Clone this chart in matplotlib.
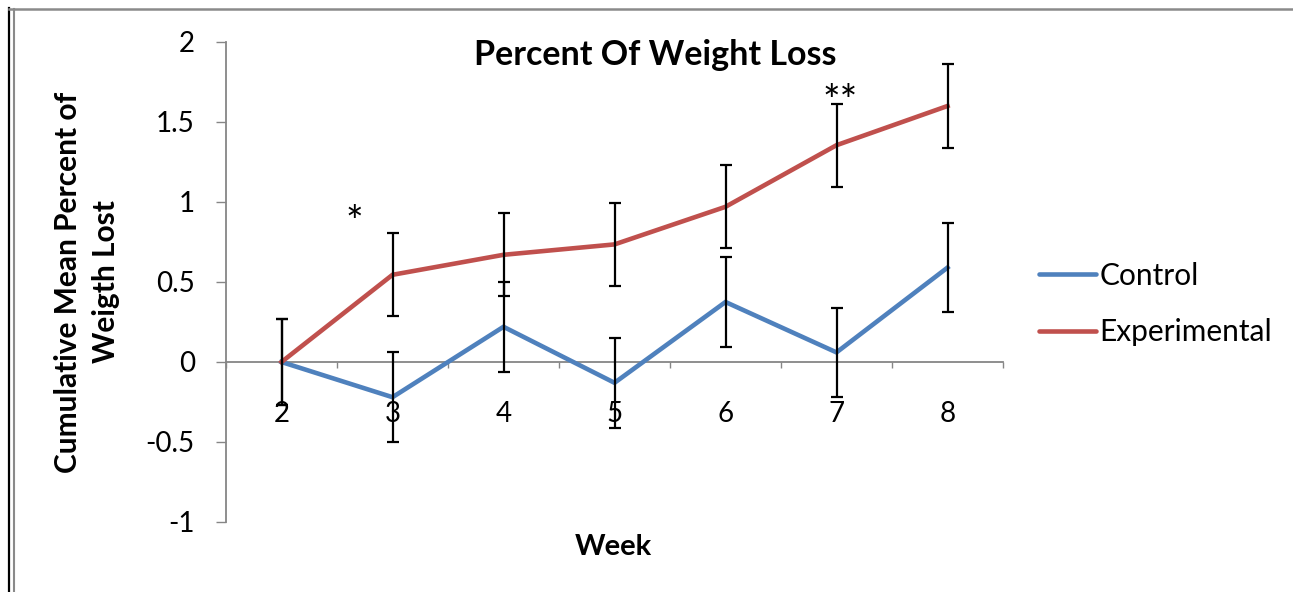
import matplotlib
matplotlib.use("Agg")
import matplotlib.pyplot as plt
from matplotlib.lines import Line2D
import numpy as np

# Data
weeks = ["2", "3", "4", "5", "6", "7", "8"]
control = [0.0, -0.22, 0.22, -0.13, 0.375, 0.06, 0.59]
control_err = [0.27, 0.28, 0.28, 0.28, 0.28, 0.28, 0.28]
experimental = [0.0, 0.545, 0.67, 0.735, 0.97, 1.355, 1.60]
experimental_err = [0.27, 0.26, 0.26, 0.26, 0.26, 0.26, 0.26]
y_ticks = [-1, -0.5, 0, 0.5, 1, 1.5, 2]
y_tick_labels = ["-1", "-0.5", "0", "0.5", "1", "1.5", "2"]

plt.rcParams['font.family'] = ['Lato', 'DejaVu Sans']

W, H = 1293, 592
fig = plt.figure(figsize=(W / 100, H / 100), dpi=100)
fig.patch.set_facecolor("white")

x0, x1, ytop, ybot = 226, 1003, 42, 522
ax = fig.add_axes([x0 / W, 1 - ybot / H, (x1 - x0) / W, (ybot - ytop) / H])

BLUE = "#4F81BD"
RED = "#C0504D"
GRAY = "#868686"

x = np.arange(len(weeks))
ax.plot(x, control, color=BLUE, lw=3.3, solid_joinstyle="miter", zorder=3)
ax.plot(x, experimental, color=RED, lw=3.3, solid_joinstyle="miter", zorder=3)
for vals, errs in ((control, control_err), (experimental, experimental_err)):
    ax.errorbar(x, vals, yerr=errs, fmt="none", ecolor="black", elinewidth=1.6,
                capsize=4, capthick=1.6, zorder=4)

ax.set_xlim(-0.5, len(weeks) - 0.5)
ax.set_ylim(-1, 2)

# Spines: only a grey value axis and a category axis crossing at zero
for s in ("top", "right"):
    ax.spines[s].set_visible(False)
ax.spines["left"].set_color(GRAY)
ax.spines["left"].set_linewidth(1.3)
ax.spines["bottom"].set_position(("data", 0))
ax.spines["bottom"].set_color(GRAY)
ax.spines["bottom"].set_linewidth(1.3)

ax.set_yticks(y_ticks)
ax.set_yticklabels(y_tick_labels)
ax.tick_params(axis="y", direction="out", length=7.5, width=1.0, color=GRAY,
               pad=15, labelsize=20)

ax.set_xticks(x)
ax.set_xticklabels(weeks)
ax.set_xticks(np.arange(-0.5, len(weeks), 1.0), minor=True)
ax.tick_params(axis="x", which="major", length=0, pad=28, labelsize=20)
ax.tick_params(axis="x", which="minor", direction="out", length=4.5, width=1.0,
               color=GRAY)

# Significance markers
ax.text(0.66, 0.86, "*", fontsize=30, ha="center", va="center")
ax.text(5.03, 1.62, "**", fontsize=30, ha="center", va="center")

# Titles and axis labels
fig.text(655 / W, 1 - 55 / H, "Percent Of Weight Loss", fontsize=24.5,
         fontweight="bold", ha="center", va="center")
fig.text(613 / W, 1 - 547 / H, "Week", fontsize=21, fontweight="bold",
         ha="center", va="center")
fig.text(87 / W, 1 - 282 / H, "Cumulative Mean Percent of\nWeigth Lost",
         fontsize=21.5, fontweight="bold", ha="center", va="center",
         rotation=90, multialignment="center", linespacing=1.4)

# Legend
handles = [Line2D([], [], color=BLUE, lw=3.3, solid_capstyle="round"),
           Line2D([], [], color=RED, lw=3.3, solid_capstyle="round")]
leg = fig.legend(handles, ["Control", "Experimental"], loc="center left",
                 bbox_to_anchor=(1039 / W, 1 - 304 / H), frameon=False,
                 fontsize=21.5, handlelength=1.9, handletextpad=0.12,
                 labelspacing=0.95, borderpad=0, borderaxespad=0)

# Chart frame lines
fig.add_artist(Line2D([9 / W, 9 / W], [0, 1 - 8 / H], transform=fig.transFigure,
                      color="black", lw=1.6))
fig.add_artist(Line2D([13.5 / W, 13.5 / W], [0, 1 - 9 / H],
                      transform=fig.transFigure, color="#8a8a8a", lw=1.5))
fig.add_artist(Line2D([9 / W, 1], [1 - 9 / H, 1 - 9 / H],
                      transform=fig.transFigure, color="#8a8a8a", lw=1.8))

fig.savefig("out.png", dpi=100, facecolor="white")
